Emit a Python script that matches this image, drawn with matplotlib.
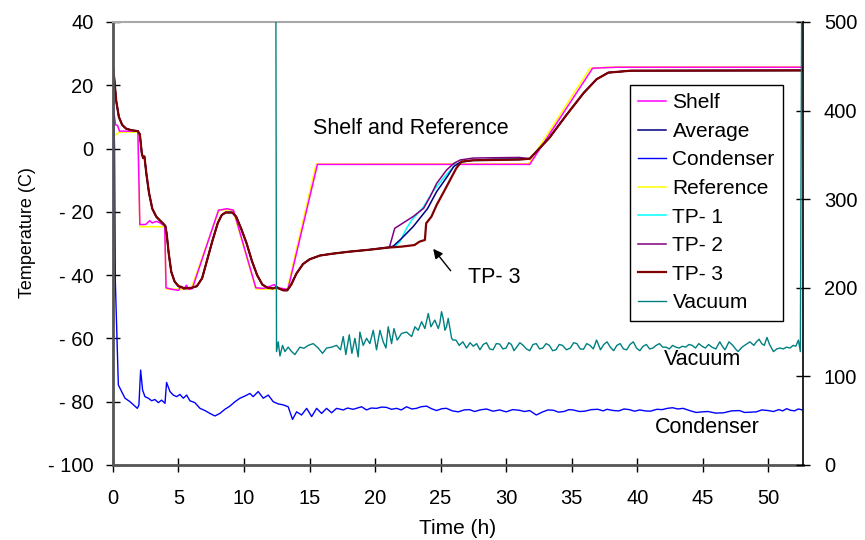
import numpy as np
import matplotlib
matplotlib.use('Agg')
import matplotlib.pyplot as plt

plt.rcParams['font.family'] = ['Liberation Sans', 'DejaVu Sans']

### data
x_ticks = [0, 5, 10, 15, 20, 25, 30, 35, 40, 45, 50]
y_ticks = [-100, -80, -60, -40, -20, 0, 20, 40]
y_tick_labels = ['- 100', '- 80', '- 60', '- 40', '- 20', '0', '20', '40']
vac_ticks = [0, 100, 200, 300, 400, 500]

# probe curves share the early part of the run
early_t = [0.0, 0.1, 0.25, 0.45, 0.7, 1.0, 1.4, 1.9, 2.05, 2.2, 2.3, 2.4, 2.55, 2.75, 3.0, 3.3,
           3.6, 3.9, 4.0, 4.1, 4.25, 4.45, 4.7, 5.0, 5.5, 6.0, 6.4, 6.8, 7.2, 7.6, 8.0, 8.3, 8.6,
           9.1, 9.4, 9.8, 10.2, 10.6, 11.0, 11.4, 11.8, 12.2, 12.5, 12.7, 13.0, 13.3, 13.6, 14.0,
           14.5, 15.0, 15.8, 16.8, 18.0, 19.5, 21.0]
early_v = [26, 22, 15, 10, 7.5, 6.3, 5.8, 5.5, 4.5, -1.5, -3, -2.5, -8, -14, -19, -21.5,
           -22.8, -24, -24.5, -27, -33, -39, -42, -43.5, -44.2, -44, -43.5, -41, -35, -29, -23.5, -21, -20.2,
           -20.2, -21.5, -25.5, -30, -35.5, -40, -43, -44, -44.2, -43.8, -44.3, -44.8, -44.8, -43, -39.5,
           -36.5, -35, -33.8, -33.2, -32.6, -32, -31.3]

late_t = [31.8, 33.3, 34.6, 35.9, 36.9, 37.8, 39.5, 52.6]
late_v = [-3.2, 3.4, 10.6, 17.5, 21.9, 24.0, 24.6, 24.7]

avg_mid_t = [21.4, 22.0, 22.9, 24.0, 24.7, 25.5, 26.0, 26.5, 27.5, 29.0, 31.0]
avg_mid_v = [-30.8, -28.5, -24.7, -19, -13.6, -8.9, -5.7, -4.3, -3.7, -3.4, -3.3]
tp1_mid_t = [21.5, 21.9, 22.4, 22.8, 23.7, 24.4, 25.2, 26.1, 26.6, 27.5, 31.0]
tp1_mid_v = [-31.0, -29.4, -25.2, -22.6, -18.4, -13.6, -9.4, -5.2, -4.2, -3.8, -3.5]
tp2_mid_t = [21.1, 21.5, 22.9, 23.7, 24.2, 24.7, 25.45, 26.0, 26.5, 27.5, 31.0]
tp2_mid_v = [-31.1, -25.2, -21.5, -18.9, -15.2, -11.0, -6.8, -4.7, -3.6, -3.0, -2.8]
tp3_mid_t = [22.0, 23.0, 23.4, 23.8, 23.9, 24.3, 24.7, 25.2, 25.7, 26.2, 26.6, 27.5, 31.0]
tp3_mid_v = [-31.0, -30.5, -29.4, -28.9, -23.6, -21.5, -17.8, -14.0, -10.1, -6.2, -4.1, -3.7, -3.5]

shelf_t = [0.05, 0.2, 0.35, 0.5, 1.9, 2.05, 2.5, 2.8, 3.0, 3.3, 3.6, 3.95, 4.05, 4.5, 5.0, 5.2,
           5.4, 5.6, 5.8, 6.05, 8.05, 8.7, 9.2, 10.9, 11.5, 12.0, 12.3, 12.6, 13.35, 15.6, 31.8,
           36.6, 38.5, 52.6]
shelf_v = [12, 7.5, 7.3, 5.5, 5.5, -24, -24, -22.8, -23.5, -23, -23.5, -24.5, -44, -44.5, -44.8, -43.5,
           -44.5, -43.2, -44.5, -44.3, -19.5, -19.0, -19.5, -44, -44.2, -43.5, -43, -44, -44.5, -5, -5,
           25.4, 25.7, 25.7]

ref_t = [0.0, 0.5, 1.9, 2.05, 3.95, 4.05, 5.95, 8.1, 9.15, 10.9, 13.3, 15.5, 31.7, 36.4, 38.5, 52.6]
ref_v = [3.8, 5.2, 5.2, -24.7, -24.7, -44.4, -44.4, -19.4, -19.4, -44.4, -44.4, -4.9, -4.8, 25.4, 25.8, 25.8]

condenser = [(0.0, 25), (0.12, 0), (0.18, -42), (0.41, -74.7), (0.66, -76.8), (0.92, -78.9),
             (1.30, -80), (1.68, -81.4), (1.86, -82.1), (1.98, -81), (2.11, -70), (2.26, -76.3),
             (2.44, -78.4), (2.70, -78.9), (2.95, -79.7), (3.20, -79.3), (3.46, -80.3), (3.71, -79.5),
             (3.97, -80.5), (4.09, -73.9), (4.35, -76.8), (4.60, -77.9), (4.86, -78.4), (5.11, -77.7),
             (5.37, -78.9), (5.62, -77.9), (5.87, -79.7), (6.25, -80.3), (6.64, -82.1), (7.02, -82.8),
             (7.40, -83.7), (7.78, -84.5), (8.16, -83.7), (8.54, -82.4), (8.92, -81.4), (9.31, -80),
             (9.69, -78.9), (10.07, -78.2), (10.45, -77.4), (10.70, -78.4), (11.08, -76.8), (11.47, -78.9),
             (11.85, -77.9), (12.23, -80), (12.61, -80.7), (12.99, -81), (13.37, -81.6), (13.70, -85.6),
             (14.01, -83.2), (14.39, -84.2), (14.78, -82.1), (15.16, -84.7), (15.54, -82.1), (15.92, -83.7),
             (16.30, -82.1), (16.68, -83.5), (17.06, -82.1), (17.57, -82.6), (17.9, -82.0), (18.33, -82.4),
             (18.97, -81.6), (19.35, -82.6), (19.7, -82.0), (20.11, -82.1), (20.5, -81.7), (20.87, -81.8),
             (21.25, -82.4), (21.64, -82.1), (22.0, -82.6), (22.40, -81.6), (22.8, -82.3), (23.16, -82.1),
             (23.5, -81.6), (23.93, -81.4), (24.3, -82.2), (24.69, -82.8), (25.1, -82.2), (25.45, -82.1),
             (25.9, -82.9), (26.34, -83.2), (26.8, -82.6), (27.2, -82.5), (27.6, -83.1), (28.0, -82.6),
             (28.5, -82.3), (29.0, -83.0), (29.5, -82.6), (30.0, -83.2), (30.5, -82.5), (31.0, -82.7),
             (31.4, -83.1), (31.8, -82.8), (32.3, -84.2), (32.8, -83.2), (33.2, -82.6), (33.6, -82.7),
             (34.0, -83.3), (34.4, -83.1), (34.8, -82.5), (35.1, -82.6), (35.6, -83.1), (36.0, -83.0),
             (36.5, -82.5), (37.0, -82.4), (37.4, -82.9), (37.7, -82.4), (38.2, -82.8), (38.6, -82.9),
             (39.0, -82.3), (39.4, -82.5), (39.8, -83.0), (40.2, -82.6), (40.6, -82.9), (41.0, -83.0),
             (41.5, -82.4), (41.9, -82.5), (42.3, -82.1), (42.7, -81.9), (43.1, -82.3), (43.5, -82.1),
             (44.0, -82.8), (44.5, -83.4), (45.0, -83.2), (45.4, -83.1), (46.0, -83.6), (46.6, -83.5),
             (47.2, -82.9), (47.8, -82.8), (48.2, -83.4), (48.6, -83.3), (49.1, -83.2), (49.5, -82.6),
             (50.0, -82.8), (50.4, -83.1), (50.8, -82.5), (51.1, -82.9), (51.4, -82.2), (51.7, -82.7),
             (52.0, -82.9), (52.3, -82.3), (52.6, -82.6)]

vacuum = [(12.43, 520), (12.48, 128), (12.61, 139), (12.74, 123), (12.94, 135), (13.12, 128),
          (13.37, 133), (13.63, 128), (13.88, 124.6), (14.26, 133), (14.57, 131.7), (14.90, 135),
          (15.28, 137), (15.66, 132), (15.99, 126), (16.30, 132), (16.68, 133), (17.06, 135),
          (17.36, 130), (17.57, 145), (17.77, 124.6), (18.03, 147), (18.23, 126), (18.46, 143),
          (18.71, 122), (18.84, 150), (19.09, 135), (19.35, 143), (19.60, 137), (19.86, 152),
          (20.11, 130), (20.37, 152), (20.62, 139), (20.83, 132), (21.0, 156), (21.26, 137),
          (21.44, 154), (21.69, 141), (22.02, 148.5), (22.40, 150), (22.79, 145), (23.04, 156),
          (23.29, 152), (23.55, 161.7), (23.80, 154), (24.06, 171), (24.26, 156), (24.56, 163.6),
          (24.82, 154), (24.94, 160), (25.07, 173), (25.2, 165), (25.33, 152), (25.45, 156),
          (25.58, 165.5), (25.84, 143), (25.95, 141), (26.17, 141), (26.42, 135), (26.7, 139),
          (26.98, 132), (27.25, 138), (27.49, 134), (27.75, 137), (28.0, 130), (28.25, 136),
          (28.5, 138), (28.75, 131), (29.0, 130), (29.25, 137), (29.5, 136.5), (29.75, 131),
          (30.0, 132), (30.2, 138), (30.4, 136), (30.6, 129), (30.8, 133), (31.05, 138),
          (31.3, 135), (31.55, 131), (31.8, 129), (32.05, 136), (32.3, 137), (32.55, 131),
          (32.8, 132), (33.05, 137), (33.3, 135), (33.55, 129), (33.8, 130), (34.05, 136),
          (34.3, 135), (34.6, 130), (34.9, 132), (35.15, 138), (35.4, 137), (35.65, 131),
          (35.9, 130.6), (36.15, 137), (36.4, 135), (36.65, 131), (36.9, 141), (37.2, 130),
          (37.45, 136), (37.7, 139), (37.95, 133), (38.2, 129), (38.45, 135), (38.7, 137),
          (38.95, 131), (39.2, 130), (39.45, 136), (39.7, 139), (39.95, 132), (40.2, 129),
          (40.45, 134), (40.7, 136), (40.95, 131), (41.2, 132), (41.45, 135), (41.7, 137),
          (41.95, 133), (42.2, 133), (42.45, 131), (42.7, 135), (42.95, 133), (43.2, 132),
          (43.45, 134), (43.7, 133), (43.95, 136), (44.2, 135), (44.45, 132), (44.7, 137),
          (44.95, 134), (45.2, 132), (45.45, 136), (45.7, 133), (46.0, 131), (46.3, 139),
          (46.5, 134), (46.7, 130), (47.0, 139), (47.3, 135), (47.5, 131), (47.7, 128),
          (48.0, 133), (48.3, 136), (48.6, 139), (48.9, 135), (49.1, 139), (49.3, 142),
          (49.5, 137), (49.7, 135), (49.9, 144), (50.1, 136), (50.4, 128), (50.65, 131),
          (50.9, 132), (51.15, 131), (51.4, 133), (51.65, 132), (51.9, 135), (52.1, 134),
          (52.3, 141), (52.45, 128), (52.55, 520)]

### build the series
avg_t = early_t + avg_mid_t + late_t
avg_v = early_v + avg_mid_v + late_v
tp1_t = early_t + tp1_mid_t + late_t
tp1_v = early_v + tp1_mid_v + late_v
tp2_t = early_t[:-1] + tp2_mid_t + late_t
tp2_v = early_v[:-1] + tp2_mid_v + late_v
tp3_t = early_t + tp3_mid_t + late_t
tp3_v = early_v + tp3_mid_v + late_v
cond = np.array(condenser).T
vac = np.array(vacuum).T

fig = plt.figure(figsize=(8.65, 5.4), dpi=100)
ax = fig.add_axes([0.1306, 0.1389, 0.7977, 0.8204])
ax2 = ax.twinx()

l_ref, = ax.plot(ref_t, ref_v, color='#FFFF00', lw=1.1, label='Reference')
l_shelf, = ax.plot(shelf_t, shelf_v, color='#FF00FF', lw=1.1, label='Shelf')
l_cond, = ax.plot(cond[0], cond[1], color='#0000FF', lw=1.0, label='Condenser')
l_tp1, = ax.plot(tp1_t, tp1_v, color='#00FFFF', lw=1.1, label='TP- 1')
l_tp2, = ax.plot(tp2_t, tp2_v, color='#800080', lw=1.1, label='TP- 2')
l_avg, = ax.plot(avg_t, avg_v, color='#000080', lw=1.1, label='Average')
l_tp3, = ax.plot(tp3_t, tp3_v, color='#800000', lw=1.6, label='TP- 3')
l_vac, = ax2.plot(vac[0], vac[1], color='#008080', lw=1.0, label='Vacuum')

ax.set_xlim(0, 52.65)
ax.set_ylim(-100, 40)
ax2.set_ylim(0, 500)

ax.set_xticks(x_ticks)
ax.set_xticklabels([str(v) for v in x_ticks], fontsize=14.5)
ax.set_yticks(y_ticks)
ax.set_yticklabels(y_tick_labels, fontsize=14.5)
ax2.set_yticks(vac_ticks)
ax2.set_yticklabels([str(v) for v in vac_ticks], fontsize=14.5)
ax.tick_params(direction='inout', length=10, width=1)
ax.tick_params(axis='x', pad=12)
ax.tick_params(axis='y', pad=9)
ax2.tick_params(direction='inout', length=10, width=1, pad=10)

for s in ['left', 'bottom']:
    ax.spines[s].set_color('#555555')
    ax.spines[s].set_linewidth(2)
ax.spines['top'].set_color('#a8a8a8')
ax.spines['top'].set_linewidth(1.5)
ax.spines['right'].set_visible(False)
for s in ['left', 'top', 'bottom']:
    ax2.spines[s].set_visible(False)
ax2.spines['right'].set_color('black')
ax2.spines['right'].set_linewidth(1.2)

ax.set_ylabel('Temperature (C)', fontsize=13)
ax.yaxis.set_label_coords(-0.112, 0.524)
ax.set_xlabel('Time (h)', fontsize=15)
ax.xaxis.set_label_coords(0.5, -0.122)

ax.text(15.3, 6.3, 'Shelf and Reference', fontsize=15.5, va='center')
ax.annotate('', xy=(24.3, -31), xytext=(25.9, -39.3),
            arrowprops=dict(arrowstyle='-|>', color='black', lw=1, mutation_scale=14))
ax.text(27.1, -40.6, 'TP- 3', fontsize=15.5, va='center')
ax.text(45.0, -66.6, 'Vacuum', fontsize=15.5, ha='center', va='center')
ax.text(45.35, -88.2, 'Condenser', fontsize=15.5, ha='center', va='center')

handles = [l_shelf, l_avg, l_cond, l_ref, l_tp1, l_tp2, l_tp3, l_vac]
leg = ax2.legend(handles, [h.get_label() for h in handles], loc='upper left',
                 bbox_to_anchor=(0.749, 0.858), fancybox=False, edgecolor='black', framealpha=1,
                 fontsize=15, handlelength=1.35, labelspacing=0.46, borderpad=0.4, handletextpad=0.3,
                 borderaxespad=0)
leg.get_frame().set_linewidth(1.0)

fig.savefig('out.png', dpi=100)
